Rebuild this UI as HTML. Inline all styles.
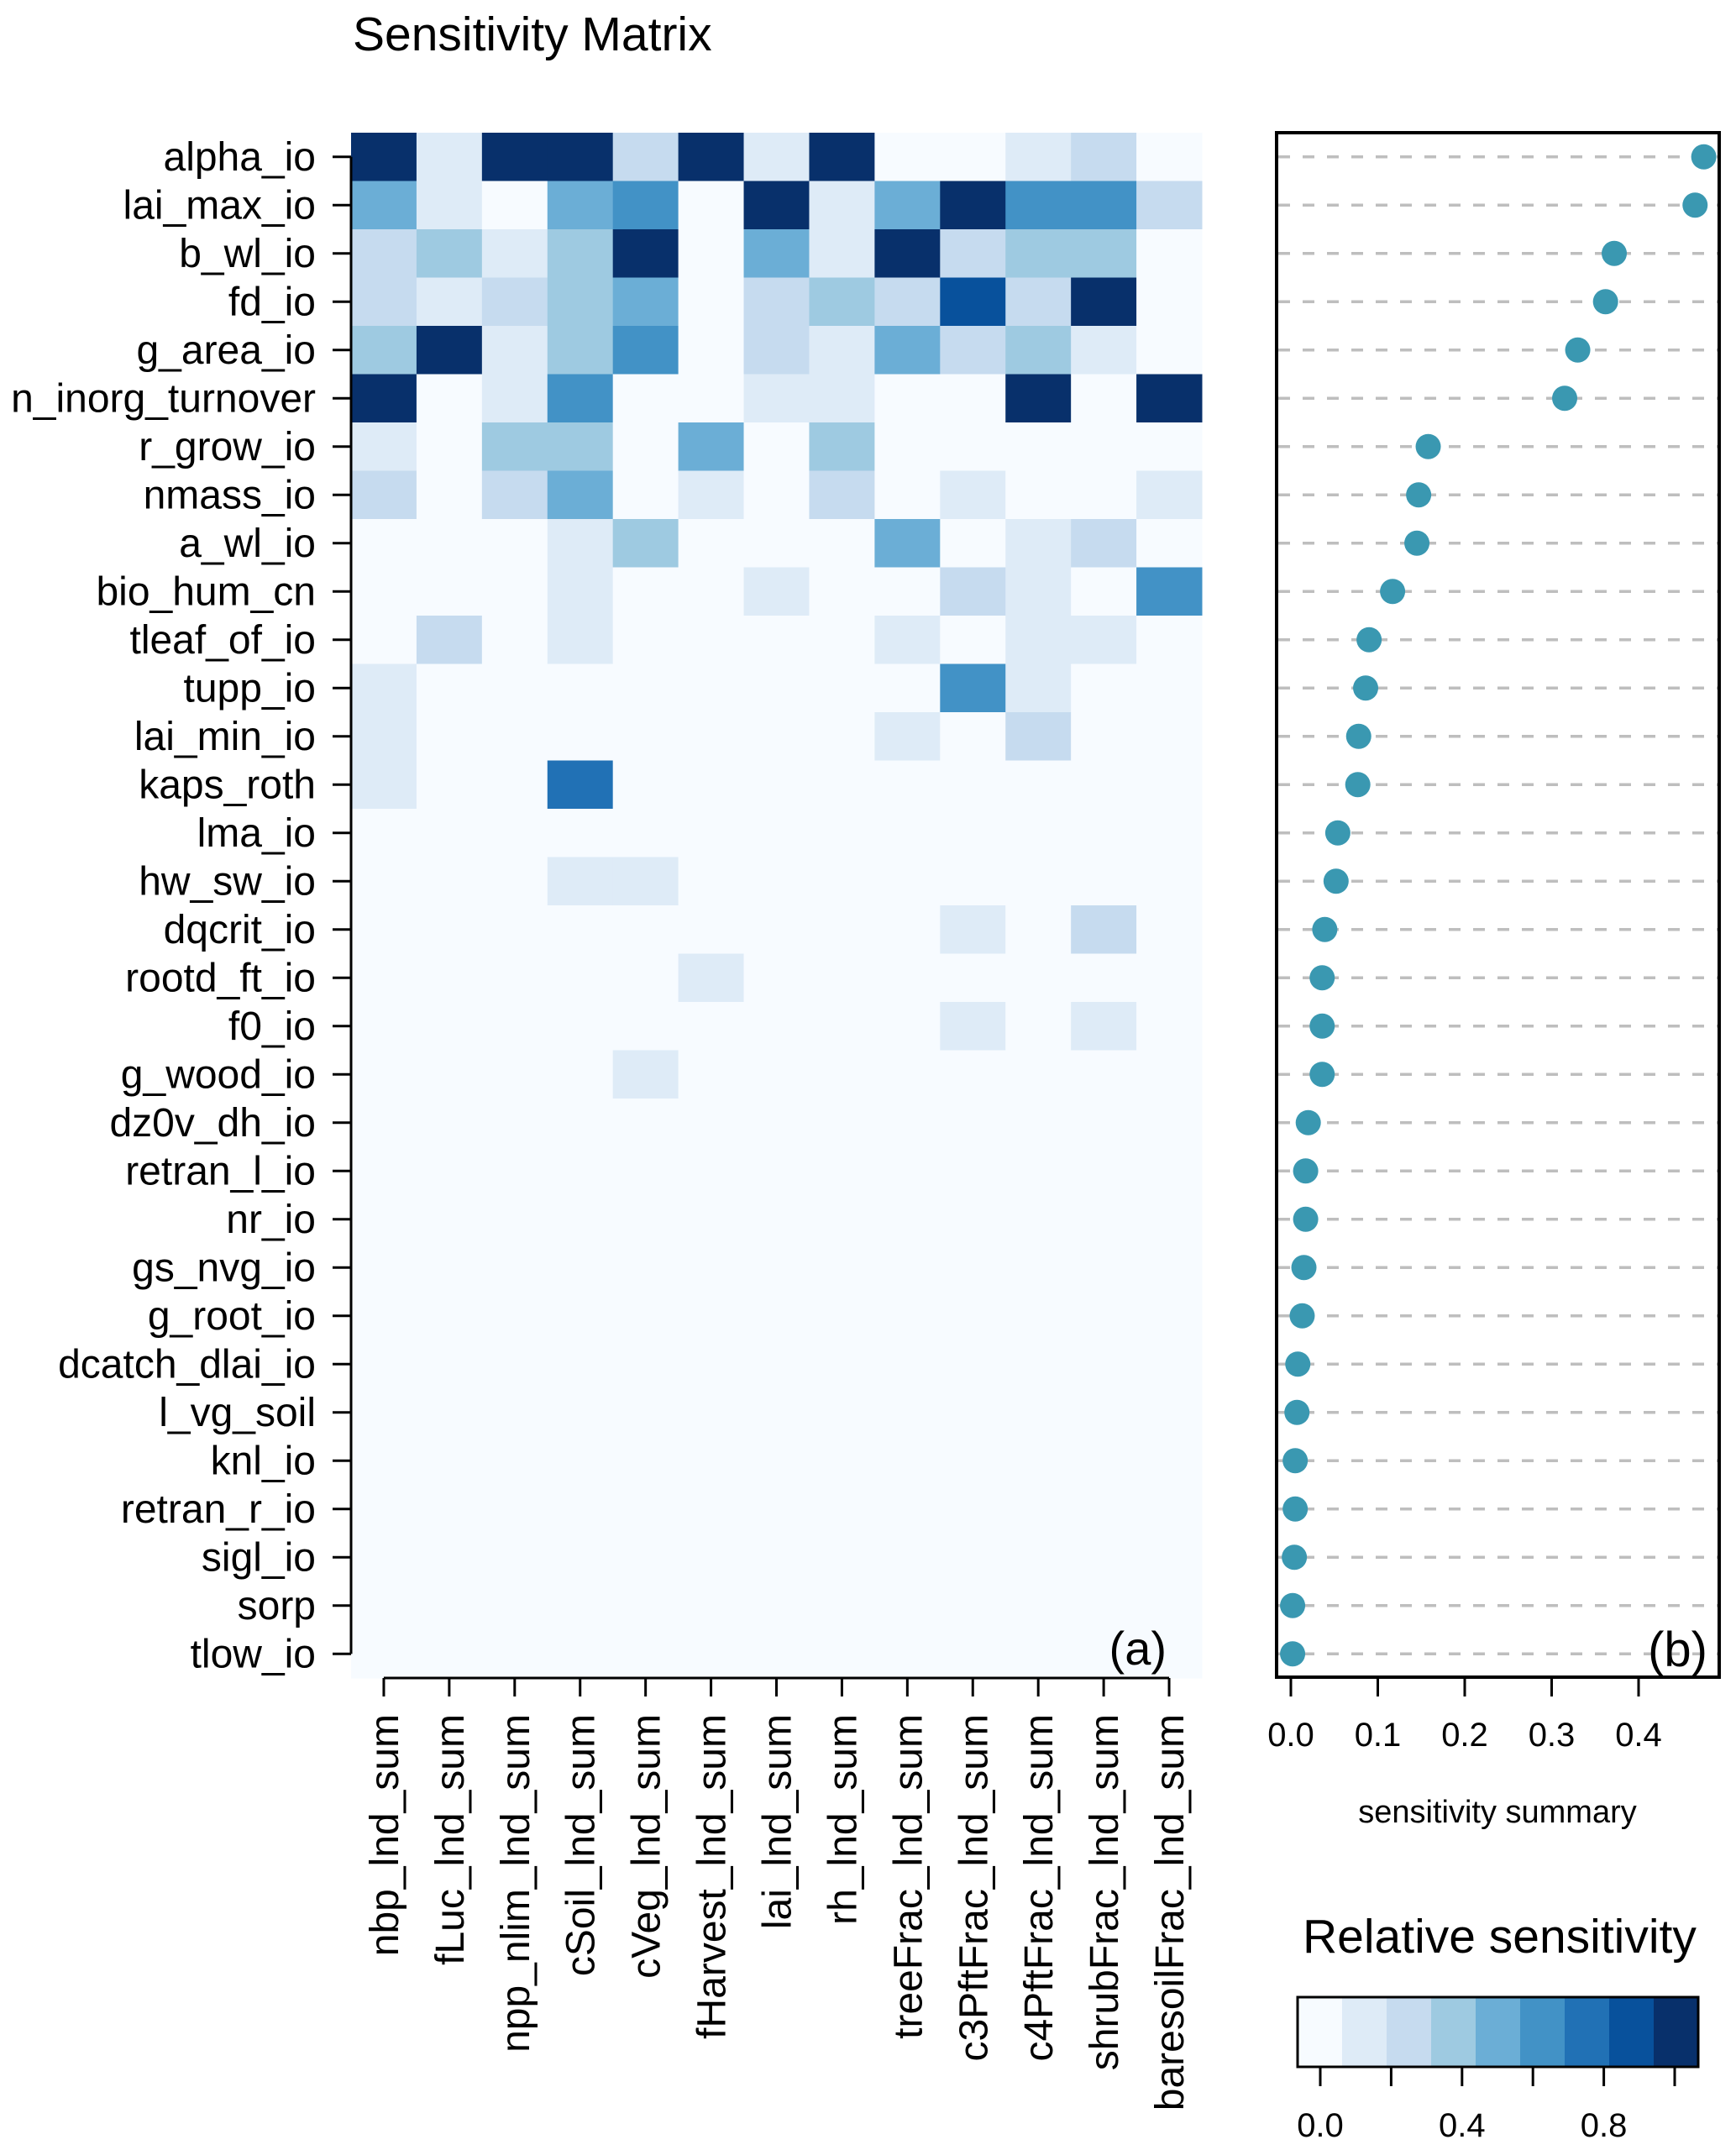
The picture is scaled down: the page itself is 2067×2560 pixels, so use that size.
<!DOCTYPE html>
<html><head><meta charset="utf-8"><style>
html,body{margin:0;padding:0;background:#fff;}
svg{display:block;}
text{font-family:"Liberation Sans",sans-serif;fill:#000;}
.nar{font-family:"Liberation Sans Narrow","Liberation Sans",sans-serif;}
</style></head><body>
<svg id="chart" width="2067" height="2560" viewBox="0 0 2067 2560" xmlns="http://www.w3.org/2000/svg">
<text class="nar" x="420" y="60" font-size="57">Sensitivity Matrix</text>
<g id="heat"></g>
<g id="dots"></g>
<g id="legend"></g>
</svg>
<script>
const params = ["alpha_io","lai_max_io","b_wl_io","fd_io","g_area_io","n_inorg_turnover","r_grow_io","nmass_io","a_wl_io","bio_hum_cn","tleaf_of_io","tupp_io","lai_min_io","kaps_roth","lma_io","hw_sw_io","dqcrit_io","rootd_ft_io","f0_io","g_wood_io","dz0v_dh_io","retran_l_io","nr_io","gs_nvg_io","g_root_io","dcatch_dlai_io","l_vg_soil","knl_io","retran_r_io","sigl_io","sorp","tlow_io"];
const outputs = ["nbp_lnd_sum","fLuc_lnd_sum","npp_nlim_lnd_sum","cSoil_lnd_sum","cVeg_lnd_sum","fHarvest_lnd_sum","lai_lnd_sum","rh_lnd_sum","treeFrac_lnd_sum","c3PftFrac_lnd_sum","c4PftFrac_lnd_sum","shrubFrac_lnd_sum","baresoilFrac_lnd_sum"];
// relative sensitivity (0..1) per parameter row
const sens = [
[1,0.15,1,1,0.25,1,0.15,1,0.02,0.02,0.15,0.25,0.02],
[0.5,0.15,0,0.5,0.62,0,1,0.15,0.5,1,0.62,0.62,0.25],
[0.25,0.37,0.15,0.37,1,0,0.5,0.15,1,0.25,0.37,0.37,0],
[0.25,0.15,0.25,0.37,0.5,0,0.25,0.37,0.25,0.87,0.25,1,0],
[0.37,1,0.15,0.37,0.62,0,0.25,0.15,0.5,0.25,0.37,0.15,0],
[1,0,0.15,0.62,0,0,0.15,0.15,0,0,1,0,1],
[0.15,0,0.37,0.37,0,0.5,0,0.37,0,0,0,0,0],
[0.25,0,0.25,0.5,0,0.15,0,0.25,0,0.15,0,0,0.15],
[0,0,0,0.15,0.37,0,0,0,0.5,0,0.15,0.25,0],
[0,0,0,0.15,0,0,0.15,0,0,0.25,0.15,0,0.62],
[0,0.25,0,0.15,0,0,0,0,0.15,0,0.15,0.15,0],
[0.15,0,0,0,0,0,0,0,0,0.62,0.15,0,0],
[0.15,0,0,0,0,0,0,0,0.15,0,0.25,0,0],
[0.15,0,0,0.75,0,0,0,0,0,0,0,0,0],
[0,0,0,0,0,0,0,0,0,0,0,0,0],
[0,0,0,0.15,0.15,0,0,0,0,0,0,0,0],
[0,0,0,0,0,0,0,0,0,0.15,0,0.25,0],
[0,0,0,0,0,0.15,0,0,0,0,0,0,0],
[0,0,0,0,0,0,0,0,0,0.15,0,0.15,0],
[0,0,0,0,0.15,0,0,0,0,0,0,0,0],
[0,0,0,0,0,0,0,0,0,0,0,0,0],
[0,0,0,0,0,0,0,0,0,0,0,0,0],
[0,0,0,0,0,0,0,0,0,0,0,0,0],
[0,0,0,0,0,0,0,0,0,0,0,0,0],
[0,0,0,0,0,0,0,0,0,0,0,0,0],
[0,0,0,0,0,0,0,0,0,0,0,0,0],
[0,0,0,0,0,0,0,0,0,0,0,0,0],
[0,0,0,0,0,0,0,0,0,0,0,0,0],
[0,0,0,0,0,0,0,0,0,0,0,0,0],
[0,0,0,0,0,0,0,0,0,0,0,0,0],
[0,0,0,0,0,0,0,0,0,0,0,0,0],
[0,0,0,0,0,0,0,0,0,0,0,0,0]];
const summary = [0.475,0.465,0.372,0.362,0.33,0.315,0.158,0.147,0.145,0.117,0.09,0.086,0.078,0.077,0.054,0.052,0.039,0.036,0.036,0.036,0.02,0.017,0.017,0.015,0.013,0.008,0.007,0.005,0.005,0.004,0.002,0.002];
const summaryTicks = [0,0.1,0.2,0.3,0.4];
const legendTicks = [0,0.2,0.4,0.6,0.8,1.0];
const legendLabels = ["0.0","0.4","0.8"];
const palette = ["#f7fbff","#deebf7","#c6dbef","#9ecae1","#6baed6","#4292c6","#2171b5","#08519c","#08306b"];

const NS="http://www.w3.org/2000/svg";
function mk(tag,attrs,parent){const e=document.createElementNS(NS,tag);for(const k in attrs)e.setAttribute(k,attrs[k]);parent.appendChild(e);return e;}
const HL=418,HR=1431,HT=158,HB=1998;
const cw=(HR-HL)/outputs.length, rh=(HB-HT)/params.length;
const xCol=i=>HL+i*cw, yRow=j=>HT+j*rh;
const colorOf=v=>palette[Math.min(8,Math.max(0,Math.round(v*8)))];
const heat=document.getElementById('heat');
const bg=mk('rect',{x:HL,y:HT,width:HR-HL,height:HB-HT,fill:palette[0]},heat);


sens.forEach((row,j)=>row.forEach((v,i)=>{
  const r=mk('rect',{x:xCol(i),y:yRow(j),width:cw+0.5,height:rh+0.5,fill:colorOf(v)},heat);
  
  
}));
const ya=mk('line',{x1:HL,x2:HL,y1:yRow(0)+rh/2,y2:yRow(params.length-1)+rh/2,stroke:'#000','stroke-width':3},heat);


params.forEach((p,j)=>{
  const y=yRow(j)+rh/2;
  mk('line',{x1:HL-22,x2:HL,y1:y,y2:y,stroke:'#000','stroke-width':3},heat);
  const t=mk('text',{x:HL-42,y:y+16,'font-size':48,'text-anchor':'end','class':'nar'},heat);
  t.textContent=p;
  
  
});
const xa=mk('line',{x1:xCol(0)+cw/2,x2:xCol(outputs.length-1)+cw/2,y1:HB,y2:HB,stroke:'#000','stroke-width':3},heat);


outputs.forEach((o,i)=>{
  const x=xCol(i)+cw/2;
  mk('line',{x1:x,x2:x,y1:HB,y2:HB+22,stroke:'#000','stroke-width':3},heat);
  const t=mk('text',{x:0,y:0,'font-size':48,'text-anchor':'end',transform:`translate(${x+17},2041) rotate(-90)`},heat);
  t.textContent=o;
  
  
});
const pa=mk('text',{x:1389,y:1982,'font-size':56,'text-anchor':'end','class':'nar'},heat);
pa.textContent='(a)';



const BL=1520,BR=2047,BT=158,BB=1997;
const sx=v=>1537+v*(1951-1537)/0.4;
const dots=document.getElementById('dots');
const box=mk('rect',{x:BL,y:BT,width:BR-BL,height:BB-BT,fill:'none',stroke:'#000','stroke-width':4},dots);


summary.forEach((v,j)=>{
  const y=yRow(j)+rh/2;
  const l=mk('line',{x1:BL+2,x2:BR-2,y1:y,y2:y,stroke:'#bebebe','stroke-width':3.5,'stroke-dasharray':'14 15'},dots);
  
  
});
summary.forEach((v,j)=>{
  const c=mk('circle',{cx:sx(v),cy:yRow(j)+rh/2,r:15,fill:'#3a98b1'},dots);
  
  
});
summaryTicks.forEach(v=>{
  mk('line',{x1:sx(v),x2:sx(v),y1:BB,y2:BB+23,stroke:'#000','stroke-width':3},dots);
  const t=mk('text',{x:sx(v),y:2079,'font-size':40,'text-anchor':'middle'},dots);
  t.textContent=v.toFixed(1);
  
  
});
const st=mk('text',{x:1783,y:2170,'font-size':38,'text-anchor':'middle'},dots);
st.textContent='sensitivity summary';


const pb=mk('text',{x:2033,y:1984,'font-size':58,'text-anchor':'end'},dots);
pb.textContent='(b)';



const lg=document.getElementById('legend');
const lt=mk('text',{x:1551,y:2325,'font-size':57},lg);
lt.textContent='Relative sensitivity';


const LL=1545,LR=2022,LT=2378,LB=2461;
const lw=(LR-LL)/palette.length;
palette.forEach((c,i)=>{
  const r=mk('rect',{x:LL+i*lw,y:LT,width:lw+0.5,height:LB-LT,fill:c},lg);
  
  
});
mk('rect',{x:LL,y:LT,width:LR-LL,height:LB-LT,fill:'none',stroke:'#000','stroke-width':3},lg);
const lx=v=>1572+v*(1994-1572);
mk('line',{x1:lx(0),x2:lx(1),y1:LB,y2:LB,stroke:'#000','stroke-width':3},lg);
legendTicks.forEach(v=>{
  mk('line',{x1:lx(v),x2:lx(v),y1:LB,y2:LB+23,stroke:'#000','stroke-width':3},lg);
});
legendLabels.forEach(s=>{
  const t=mk('text',{x:lx(parseFloat(s)),y:2544,'font-size':40,'text-anchor':'middle'},lg);
  t.textContent=s;
  
  
});
</script>
</body></html>
